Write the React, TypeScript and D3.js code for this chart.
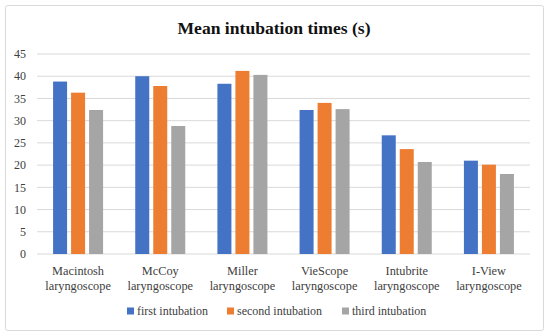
import React from 'react';
import * as d3 from 'd3';

const categories = ['Macintosh', 'McCoy', 'Miller', 'VieScope', 'Intubrite', 'I-View'];
const seriesNames = ['first intubation', 'second intubation', 'third intubation'];
const firstIntubation = [38.8, 40.0, 38.3, 32.4, 26.7, 21.0];
const secondIntubation = [36.3, 37.8, 41.2, 34.0, 23.6, 20.1];
const thirdIntubation = [32.4, 28.8, 40.3, 32.6, 20.7, 18.0];
const yTicks = [0, 5, 10, 15, 20, 25, 30, 35, 40, 45];
const colors = ['#4472C4', '#ED7D31', '#A5A5A5'];

const W = 550;
const H = 336;
const margin = { left: 37, right: 20, top: 54, bottom: 82 };

const App = () => {
  const values = [firstIntubation, secondIntubation, thirdIntubation];
  const innerW = W - margin.left - margin.right;

  const x0 = d3.scaleBand<string>().domain(categories).range([margin.left, W - margin.right]);
  const groupW = 50;
  const off = (x0.step() - groupW) / 2;
  const x1 = d3.scaleBand<string>().domain(seriesNames).range([off, off + groupW]).paddingInner(0.222);
  const y = d3.scaleLinear().domain([0, 45]).range([H - margin.bottom, margin.top]);

  const font = '"Liberation Serif", "Times New Roman", serif';
  const textColor = '#404040';

  // legend positions (squares)
  const legendX = [127, 227, 342];

  return (
    <svg width={W} height={H} style={{ position: 'absolute', left: 0, top: 0, background: '#fff' }} fontFamily={font}>
      <rect x={5.5} y={5.5} width={538} height={325} rx={2} fill="#fff" stroke="#d9d9d9" />
      <text x={274} y={34} textAnchor="middle" fontSize={17.6} fontWeight="bold" fill="#111">
        Mean intubation times (s)
      </text>

      {/* grid + y labels */}
      {yTicks.map(t => (
        <g key={t}>
          <line x1={margin.left} x2={margin.left + innerW} y1={y(t)} y2={y(t)} stroke="#d9d9d9" strokeWidth={1} />
          <text x={26} y={y(t)} dy="0.35em" textAnchor="end" fontSize={12} fill={textColor}>{t}</text>
        </g>
      ))}

      {/* bars */}
      {categories.map((c, i) => (
        <g key={c} transform={`translate(${x0(c)},0)`}>
          {seriesNames.map((s, j) => (
            <rect
              key={s}
              x={x1(s)}
              y={y(values[j][i])}
              width={x1.bandwidth()}
              height={y(0) - y(values[j][i])}
              fill={colors[j]}
            />
          ))}
        </g>
      ))}

      {/* x labels */}
      {categories.map(c => (
        <text key={c} x={(x0(c) as number) + x0.bandwidth() / 2} textAnchor="middle" fontSize={12.3} fill={textColor}>
          <tspan x={(x0(c) as number) + x0.bandwidth() / 2} y={274.5}>{c}</tspan>
          <tspan x={(x0(c) as number) + x0.bandwidth() / 2} y={290}>laryngoscope</tspan>
        </text>
      ))}

      {/* legend */}
      {seriesNames.map((s, j) => (
        <g key={s}>
          <rect x={legendX[j]} y={307.5} width={7} height={7} fill={colors[j]} />
          <text x={legendX[j] + 10} y={311} dy="0.35em" fontSize={12} fill={textColor}>{s}</text>
        </g>
      ))}
    </svg>
  );
};

export default App;
